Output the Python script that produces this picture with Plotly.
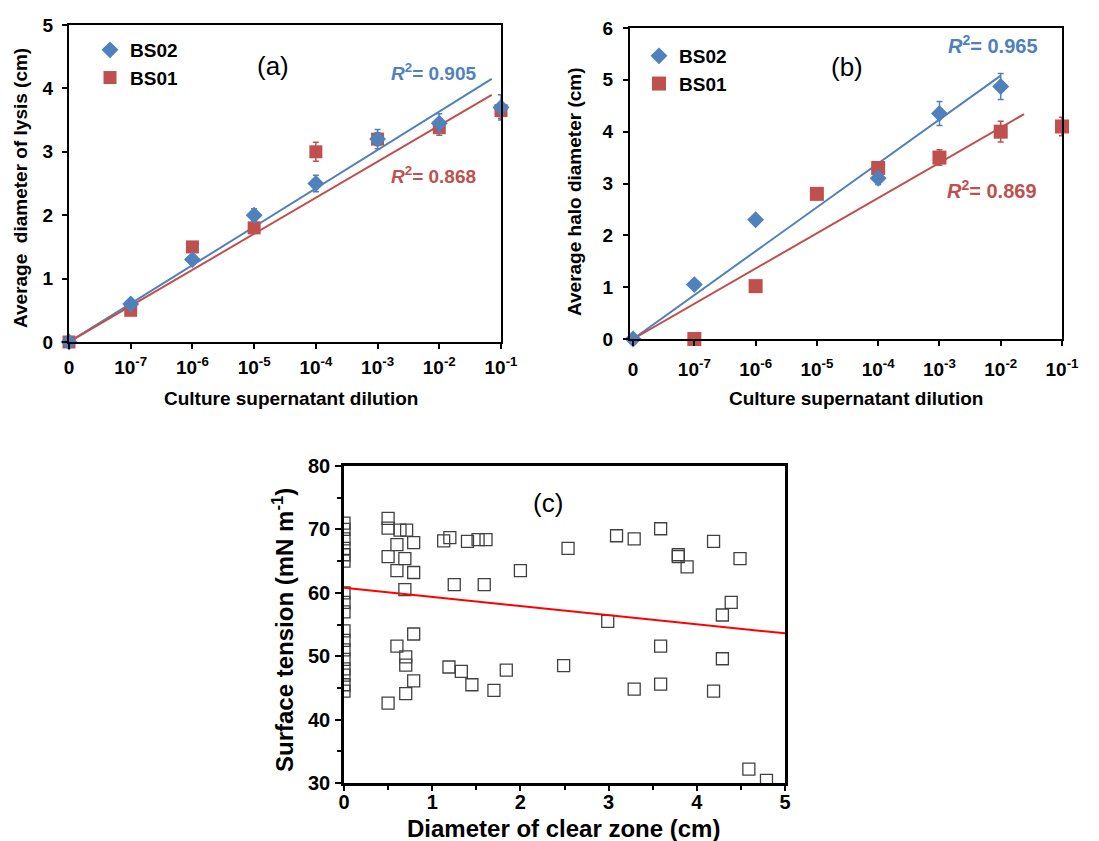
import plotly.graph_objects as go

W, H = 1099, 841
OFF = 8  # page offset of the figure (default body margin)

# ---------------- data ----------------
dilution_labels = ["0", "10<sup>-7</sup>", "10<sup>-6</sup>", "10<sup>-5</sup>",
                   "10<sup>-4</sup>", "10<sup>-3</sup>", "10<sup>-2</sup>", "10<sup>-1</sup>"]
dilution_idx = [0, 1, 2, 3, 4, 5, 6, 7]

# panel (a) average diameter of lysis (cm)
a_bs02 = [0.0, 0.6, 1.3, 2.0, 2.5, 3.2, 3.45, 3.7]
a_bs02_err = [0.0, 0.03, 0.07, 0.1, 0.13, 0.15, 0.15, 0.2]
a_bs01 = [0.0, 0.5, 1.5, 1.8, 3.0, 3.2, 3.38, 3.65]
a_bs01_err = [0.0, 0.03, 0.04, 0.06, 0.15, 0.1, 0.12, 0.12]
a_fit_bs02 = dict(slope=0.606, x_end=6.85, r2="0.905")
a_fit_bs01 = dict(slope=0.569, x_end=6.85, r2="0.868")

# panel (b) average halo diameter (cm)
b_bs02_idx = [0, 1, 2, 4, 5, 6]
b_bs02 = [0.0, 1.05, 2.3, 3.1, 4.35, 4.87]
b_bs02_err = [0.0, 0.03, 0.08, 0.12, 0.23, 0.25]
b_bs01_idx = [1, 2, 3, 4, 5, 6, 7]
b_bs01 = [0.0, 1.02, 2.8, 3.3, 3.5, 4.0, 4.1]
b_bs01_err = [0.0, 0.03, 0.05, 0.08, 0.15, 0.2, 0.18]
b_fit_bs02 = dict(slope=0.847, x_end=6.0, r2="0.965")
b_fit_bs01 = dict(slope=0.68, x_end=6.38, r2="0.869")

# panel (c) surface tension vs diameter of clear zone
c_diam = [0, 0, 0, 0, 0, 0, 0, 0, 0, 0, 0, 0, 0, 0, 0, 0, 0,
          0.5, 0.5, 0.635, 0.71, 0.6, 0.79, 0.5, 0.69, 0.6, 0.79, 0.69,
          1.13, 1.2, 1.4, 1.52, 1.61, 2.0, 1.25, 1.59, 0.79, 0.6,
          0.7, 0.7, 0.79, 0.7, 0.5, 1.19, 1.33, 1.45, 1.7, 1.84,
          2.54, 3.09, 3.29, 3.59, 3.79, 3.79, 3.89, 4.19, 4.49, 4.39, 4.29,
          2.99, 3.59, 2.49, 3.29, 3.59, 4.29, 4.19, 4.59, 4.79]
c_tension = [71.0, 70.0, 68.5, 67.0, 66.0, 65.0, 60.0, 58.5, 57.0,
             54.0, 52.5, 51.0, 49.5, 48.0, 47.0, 45.5, 44.5,
             71.75, 70.2, 69.9, 69.9, 67.6, 67.9, 65.7, 65.4, 63.5, 63.2, 60.5,
             68.2, 68.7, 68.1, 68.4, 68.4, 63.5, 61.3, 61.3, 53.5, 51.6,
             49.9, 48.6, 46.1, 44.1, 42.6, 48.3, 47.6, 45.5, 44.6, 47.8,
             67.0, 69.0, 68.5, 70.1, 65.7, 66.0, 64.1, 68.1, 65.4, 58.5, 56.5,
             55.5, 51.6, 48.5, 44.8, 45.6, 49.6, 44.5, 32.2, 30.4]
c_fit = dict(intercept=60.8, slope=-1.44, x_start=0.0, x_end=5.0)

BLUE = "#4F81BD"
RED = "#C0504D"
FONT = "Liberation Sans, Arial, sans-serif"


def fx(x):
    return (x - OFF) / W


def fy(y):
    return 1 - (y - OFF) / H


fig = go.Figure()

# ---------------- panel (a) ----------------
fig.add_trace(go.Scatter(
    x=[0, a_fit_bs02["x_end"]], y=[0, a_fit_bs02["slope"] * a_fit_bs02["x_end"]],
    mode="lines", line=dict(color=BLUE, width=2), showlegend=False,
    xaxis="x", yaxis="y", hoverinfo="skip"))
fig.add_trace(go.Scatter(
    x=[0, a_fit_bs01["x_end"]], y=[0, a_fit_bs01["slope"] * a_fit_bs01["x_end"]],
    mode="lines", line=dict(color=RED, width=2), showlegend=False,
    xaxis="x", yaxis="y", hoverinfo="skip"))
fig.add_trace(go.Scatter(
    x=dilution_idx, y=a_bs01, mode="markers", name="BS01",
    marker=dict(symbol="square", size=13, color=RED),
    error_y=dict(type="data", array=a_bs01_err, color=RED, thickness=1.5, width=3),
    xaxis="x", yaxis="y", cliponaxis=False, legend="legend", legendrank=2))
fig.add_trace(go.Scatter(
    x=dilution_idx, y=a_bs02, mode="markers", name="BS02",
    marker=dict(symbol="diamond", size=13, color=BLUE),
    error_y=dict(type="data", array=a_bs02_err, color=BLUE, thickness=1.5, width=3),
    xaxis="x", yaxis="y", cliponaxis=False, legend="legend", legendrank=1))

# ---------------- panel (b) ----------------
fig.add_trace(go.Scatter(
    x=[0, b_fit_bs02["x_end"]], y=[0, b_fit_bs02["slope"] * b_fit_bs02["x_end"]],
    mode="lines", line=dict(color=BLUE, width=2), showlegend=False,
    xaxis="x2", yaxis="y2", hoverinfo="skip"))
fig.add_trace(go.Scatter(
    x=[0, b_fit_bs01["x_end"]], y=[0, b_fit_bs01["slope"] * b_fit_bs01["x_end"]],
    mode="lines", line=dict(color=RED, width=2), showlegend=False,
    xaxis="x2", yaxis="y2", hoverinfo="skip"))
fig.add_trace(go.Scatter(
    x=b_bs01_idx, y=b_bs01, mode="markers", name="BS01",
    marker=dict(symbol="square", size=14, color=RED),
    error_y=dict(type="data", array=b_bs01_err, color=RED, thickness=1.5, width=3),
    xaxis="x2", yaxis="y2", cliponaxis=False, legend="legend2", legendrank=2))
fig.add_trace(go.Scatter(
    x=b_bs02_idx, y=b_bs02, mode="markers", name="BS02",
    marker=dict(symbol="diamond", size=13, color=BLUE),
    error_y=dict(type="data", array=b_bs02_err, color=BLUE, thickness=1.5, width=3),
    xaxis="x2", yaxis="y2", cliponaxis=False, legend="legend2", legendrank=1))

# ---------------- panel (c) ----------------
fig.add_trace(go.Scatter(
    x=c_diam, y=c_tension, mode="markers", showlegend=False,
    marker=dict(symbol="square-open", size=12, color="#404040", line=dict(width=1.3)),
    xaxis="x3", yaxis="y3", cliponaxis=True))
fig.add_trace(go.Scatter(
    x=[c_fit["x_start"], c_fit["x_end"]],
    y=[c_fit["intercept"] + c_fit["slope"] * c_fit["x_start"],
       c_fit["intercept"] + c_fit["slope"] * c_fit["x_end"]],
    mode="lines", line=dict(color="#FF0000", width=2), showlegend=False,
    xaxis="x3", yaxis="y3", hoverinfo="skip"))

tickfont_ab = dict(family=FONT, size=19, color="black", weight="bold")
tickfont_c = dict(family=FONT, size=20, color="black", weight="bold")

common_ab = dict(showline=True, mirror=True, linecolor="black", linewidth=2,
                 ticks="outside", ticklen=5, tickwidth=1.5, tickcolor="black",
                 showgrid=False, zeroline=False, tickfont=tickfont_ab, automargin=False)

fig.update_layout(
    template="none",
    width=W, height=H, margin=dict(l=0, r=0, t=0, b=0, pad=0), autosize=False,
    paper_bgcolor="white", plot_bgcolor="white", font=dict(family=FONT),
    xaxis=dict(domain=[fx(69), fx(501)], range=[0, 7], anchor="y",
               tickvals=dilution_idx, ticktext=dilution_labels,
               ticklabelstandoff=2, **common_ab),
    yaxis=dict(domain=[fy(342), fy(25)], range=[0, 5], dtick=1, anchor="x",
               ticklabelstandoff=5, **common_ab),
    xaxis2=dict(domain=[fx(630), fx(1062)], range=[-0.05, 7], anchor="y2",
                tickvals=dilution_idx, ticktext=dilution_labels,
                ticklabelstandoff=7, **common_ab),
    yaxis2=dict(domain=[fy(339), fy(28)], range=[0, 6], dtick=1, anchor="x2",
                ticklabelstandoff=6, **common_ab),
    xaxis3=dict(domain=[fx(344), fx(785)], range=[0, 5], dtick=1, anchor="y3",
                showline=True, mirror=True, linecolor="black", linewidth=2.5,
                ticks="outside", ticklen=5, tickwidth=1.5, tickcolor="black",
                minor=dict(dtick=0.5, ticks="outside", ticklen=4, tickwidth=1.5, tickcolor="black"),
                showgrid=False, zeroline=False, tickfont=tickfont_c, ticklabelstandoff=-6,
                automargin=False),
    yaxis3=dict(domain=[fy(783), fy(466)], range=[30, 80], dtick=10, anchor="x3",
                showline=True, mirror=True, linecolor="black", linewidth=2.5,
                ticks="outside", ticklen=6, tickwidth=1.5, tickcolor="black",
                minor=dict(dtick=5, ticks="outside", ticklen=4, tickwidth=1.5, tickcolor="black"),
                showgrid=False, zeroline=False, tickfont=tickfont_c, ticklabelstandoff=1,
                automargin=False),
    legend=dict(x=fx(90), y=fy(31), xanchor="left", yanchor="top",
                bgcolor="rgba(0,0,0,0)", borderwidth=0, traceorder="normal",
                font=dict(family=FONT, size=19, color="black", weight="bold"),
                itemwidth=30),
    legend2=dict(x=fx(639), y=fy(37), xanchor="left", yanchor="top",
                 bgcolor="rgba(0,0,0,0)", borderwidth=0, traceorder="normal",
                 font=dict(family=FONT, size=19, color="black", weight="bold"),
                 itemwidth=30),
)

annotations = []


def ann(text, x, y, size, color="black", bold=True, angle=0):
    annotations.append(dict(
        text=text, x=fx(x), y=fy(y), xref="paper", yref="paper", showarrow=False,
        xanchor="center", yanchor="middle", textangle=angle,
        font=dict(family=FONT, size=size, color=color, weight="bold" if bold else "normal")))


# axis titles
ann("Average  diameter of lysis (cm)", 20, 188, 19, angle=-90)
ann("Culture supernatant dilution", 291, 398, 19)
ann("Average halo diameter (cm)", 575, 192, 19, angle=-90)
ann("Culture supernatant dilution", 856, 398, 19)
ann("Surface tension (mN m<sup>-1</sup>)", 283, 630, 24, angle=-90)
ann("Diameter of clear zone (cm)", 563, 828, 24)

# panel labels
ann("(a)", 273, 66, 26, bold=False)
ann("(b)", 847, 67, 26, bold=False)
ann("(c)", 548, 503, 26, bold=False)

# R^2 labels
ann("<i>R</i><sup>2</sup>= " + a_fit_bs02["r2"], 433, 72, 19, color=BLUE)
ann("<i>R</i><sup>2</sup>= " + a_fit_bs01["r2"], 433, 175, 19, color=RED)
ann("<i>R</i><sup>2</sup>= " + b_fit_bs02["r2"], 993, 45, 20, color=BLUE)
ann("<i>R</i><sup>2</sup>= " + b_fit_bs01["r2"], 992, 190, 20, color=RED)

fig.update_layout(annotations=annotations)

fig.write_html("out.html")
